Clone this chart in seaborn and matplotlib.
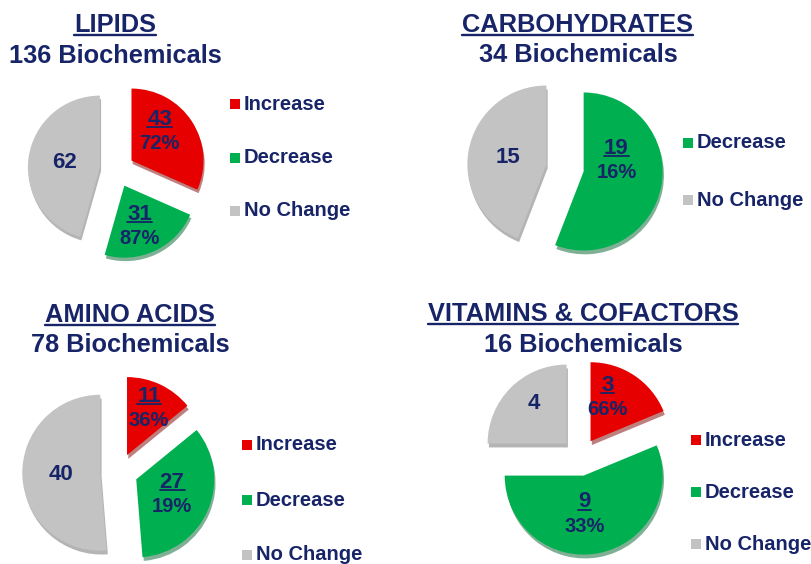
import matplotlib

matplotlib.use("Agg")

import numpy as np
import matplotlib.pyplot as plt
import seaborn as sns
from matplotlib.lines import Line2D
from matplotlib.patches import Rectangle


W, H = 812, 564
DPI = 100

# ---- data -----------------------------------------------------------------
TITLES = ["LIPIDS", "CARBOHYDRATES", "AMINO ACIDS", "VITAMINS & COFACTORS"]
TOTALS = [136, 34, 78, 16]
CATEGORIES = ["Increase", "Decrease", "No Change"]

LIPIDS = [43, 31, 62]
CARBOHYDRATES = [0, 19, 15]
AMINO_ACIDS = [11, 27, 40]
VITAMINS = [3, 9, 4]

PCT_LIPIDS = ["72%", "87%", None]
PCT_CARBOHYDRATES = [None, "16%", None]
PCT_AMINO_ACIDS = ["36%", "19%", None]
PCT_VITAMINS = ["66%", "33%", None]

SERIES = [LIPIDS, CARBOHYDRATES, AMINO_ACIDS, VITAMINS]
PCTS = [PCT_LIPIDS, PCT_CARBOHYDRATES, PCT_AMINO_ACIDS, PCT_VITAMINS]

# ---- style ----------------------------------------------------------------
COLORS = {"Increase": "#e60000", "Decrease": "#00b050", "No Change": "#c3c3c3"}
NAVY = "#172468"

# panel layout in pixels: pie centre, radius, title x / baselines, legend
PANELS = [
    dict(center=(117, 170), radius=72, title_x=115, title_y=(32, 63), legend=(230, 104, 53.5)),
    dict(center=(565, 168), radius=79, title_x=578, title_y=(32, 62), legend=(683, 143, 57)),
    dict(center=(119, 472), radius=78, title_x=130, title_y=(322, 352), legend=(242, 445, 55)),
    dict(center=(580, 457), radius=79, title_x=583, title_y=(321, 352), legend=(691, 440, 52)),
]

# small manual nudges (pixels) for a few slice labels
NUDGE = {
    (0, "Increase"): (-2, -9),
    (0, "Decrease"): (-5, -2),
    (1, "Decrease"): (-6, -18),
    (3, "Increase"): (-12, 0),
    (3, "Decrease"): (-7, 0),
    (3, "No Change"): (4, -3),
}

EXPLODE = 0.24
LIM = 1.45


def setup_style() -> None:
    sns.set_theme(style="white")
    plt.rcParams["font.family"] = ["Liberation Sans", "DejaVu Sans"]
    plt.rcParams["font.weight"] = "bold"


def px(x, y):
    return x / W, 1 - y / H


def draw_panel(fig, idx, title, total, values, pcts, layout, underlined):
    cx, cy = layout["center"]
    r = layout["radius"]
    size = 2 * LIM * r
    ax = fig.add_axes([(cx - size / 2) / W, (H - cy - size / 2) / H, size / W, size / H])

    keep = [i for i, v in enumerate(values) if v > 0]
    vals = [values[i] for i in keep]
    cats = [CATEGORIES[i] for i in keep]
    labels = [pcts[i] for i in keep]

    wedges, _ = ax.pie(
        vals,
        colors=[COLORS[c] for c in cats],
        startangle=90,
        counterclock=False,
        explode=[EXPLODE] * len(vals),
        wedgeprops=dict(linewidth=0),
        shadow=dict(ox=0.012, oy=-0.035, shade=0.45),
    )
    ax.set_xlim(-LIM, LIM)
    ax.set_ylim(-LIM, LIM)
    ax.set_aspect("equal")
    ax.axis("off")

    total_vals = sum(vals)
    for w, v, pct, cat in zip(wedges, vals, labels, cats):
        mid = np.deg2rad((w.theta1 + w.theta2) / 2)
        dist = EXPLODE + (0.66 if v / total_vals <= 0.25 else 0.5)
        x, y = dist * np.cos(mid), dist * np.sin(mid)
        dx, dy = NUDGE.get((idx, cat), (0, 0))
        ox, oy = dx * 0.72, -dy * 0.72
        if pct is None:
            ax.annotate(str(v), (x, y), xytext=(ox, oy), textcoords="offset points",
                        ha="center", va="center", fontsize=16,
                        fontweight="bold", color=NAVY)
        else:
            t = ax.annotate(str(v), (x, y), xytext=(ox, oy + 9), textcoords="offset points",
                            ha="center", va="center", fontsize=16,
                            fontweight="bold", color=NAVY)
            underlined.append((t, 1.3))
            ax.annotate(pct, (x, y), xytext=(ox, oy - 8.5), textcoords="offset points",
                        ha="center", va="center", fontsize=14.5,
                        fontweight="bold", color=NAVY)

    # titles
    tx = layout["title_x"]
    y1, y2 = layout["title_y"]
    t1 = fig.text(*px(tx, y1), title, ha="center", va="baseline", fontsize=18.3,
                  fontweight="bold", color=NAVY)
    underlined.append((t1, 1.7))
    fig.text(*px(tx, y2), f"{total} Biochemicals", ha="center", va="baseline",
             fontsize=18.3, fontweight="bold", color=NAVY)

    # legend
    lx, ly, step = layout["legend"]
    for i, c in enumerate(cats):
        yy = ly + i * step
        fig.add_artist(Rectangle(px(lx, yy + 5), 10 / W, 10 / H,
                                 transform=fig.transFigure, color=COLORS[c], lw=0))
        fig.text(*px(lx + 14, yy), c, ha="left", va="center", fontsize=14.5,
                 fontweight="bold", color=NAVY)


def add_underlines(fig, underlined):
    fig.canvas.draw()
    renderer = fig.canvas.get_renderer()
    for t, lw in underlined:
        bb = t.get_window_extent(renderer)
        y = bb.y0 + 2.5
        fig.add_artist(Line2D([bb.x0 / W, bb.x1 / W], [y / H, y / H],
                              transform=fig.transFigure, color=NAVY, lw=lw))


def main() -> None:
    setup_style()
    fig = plt.figure(figsize=(W / DPI, H / DPI), dpi=DPI)
    fig.patch.set_facecolor("white")

    underlined = []
    for idx, (title, total, values, pcts, layout) in enumerate(
        zip(TITLES, TOTALS, SERIES, PCTS, PANELS)
    ):
        draw_panel(fig, idx, title, total, values, pcts, layout, underlined)

    add_underlines(fig, underlined)
    fig.savefig("out.png", dpi=DPI)
    plt.close(fig)


if __name__ == "__main__":
    main()
